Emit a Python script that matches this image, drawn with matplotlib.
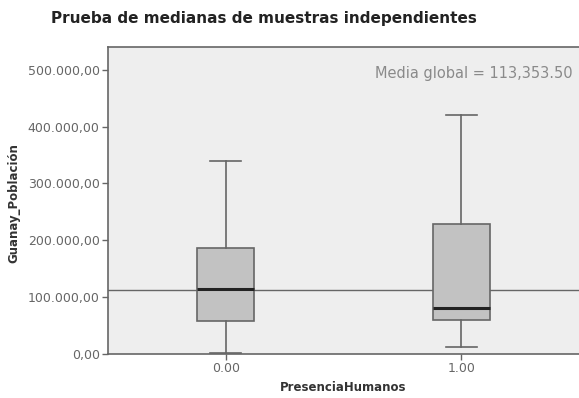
import matplotlib.pyplot as plt
import matplotlib.ticker as mticker

# grupos y estadisticos
grupos = ["0.00", "1.00"]
bigote_inf = [1500, 13000]
q1 = [58000, 59500]
mediana = [114500, 81000]
q3 = [187000, 229500]
bigote_sup = [339000, 421000]
media_global = 113353.50

yticks = [0, 100000, 200000, 300000, 400000, 500000]


def fmt_es(v, pos=None):
    # formato 500.000,00
    s = "{:,.2f}".format(v)
    return s.replace(",", "X").replace(".", ",").replace("X", ".")


stats = []
for i, g in enumerate(grupos):
    stats.append({"label": g, "whislo": bigote_inf[i], "q1": q1[i], "med": mediana[i],
                  "q3": q3[i], "whishi": bigote_sup[i], "fliers": []})

fig = plt.figure(figsize=(5.79, 3.98), dpi=100)
ax = fig.add_axes([108/579, 1 - 354/398, 471/579, (354-47)/398])
ax.set_facecolor("#eeeeee")

ax.axhline(media_global, color="#666666", lw=1, zorder=1)

ax.bxp(stats, positions=[0, 1], widths=0.24, patch_artist=True, zorder=2,
       boxprops=dict(facecolor="#c2c2c2", edgecolor="#666666", lw=1.2),
       medianprops=dict(color="#222222", lw=2.2),
       whiskerprops=dict(color="#666666", lw=1.2),
       capprops=dict(color="#666666", lw=1.2),
       capwidths=0.13)

ax.set_xlim(-0.5, 1.5)
ax.set_ylim(0, 540000)
ax.set_yticks(yticks)
ax.yaxis.set_major_formatter(mticker.FuncFormatter(fmt_es))
ax.set_xticks([0, 1])
ax.set_xticklabels(grupos)

for s in ["left", "bottom", "top"]:
    ax.spines[s].set_color("#666666")
    ax.spines[s].set_linewidth(1.2)
ax.spines["right"].set_visible(False)
ax.tick_params(colors="#666666", labelcolor="#666666", labelsize=9, length=4, width=1, pad=2)

ax.text(0.987, 0.915, "Media global = 113,353.50", transform=ax.transAxes,
        ha="right", va="center", fontsize=10.5, color="#8a8a8a")

ax.set_xlabel("PresenciaHumanos", fontsize=8.5, fontweight="bold", color="#333333")
ax.xaxis.set_label_coords(0.5, -(381 - 354) / 307)
ax.set_ylabel("Guanay_Población", fontsize=8.5, fontweight="bold", color="#333333")
ax.yaxis.set_label_coords(-(108 - 20) / 471, 1 - (203 - 47) / 307)
fig.text(264/579, 1 - 18/398, "Prueba de medianas de muestras independientes",
         ha="center", va="center", fontsize=11, fontweight="bold", color="#222222")

plt.savefig("out.png", dpi=100)
